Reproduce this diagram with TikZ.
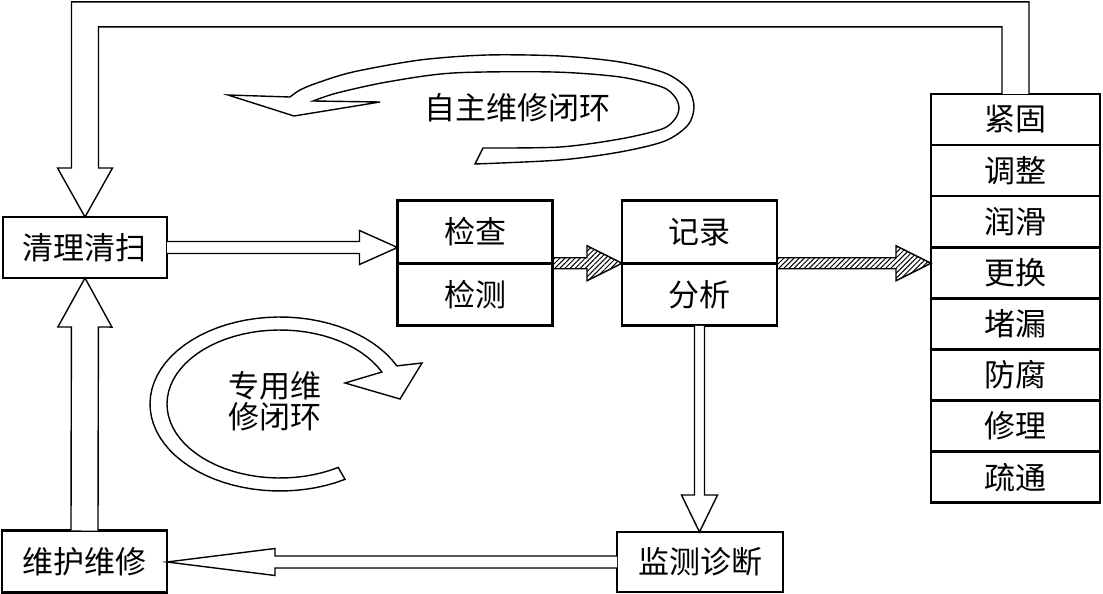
\documentclass[tikz,border=0pt]{standalone}
\usepackage{fontspec}
\newfontfamily\cjk{Noto Sans CJK SC}
\usetikzlibrary{calc, positioning, patterns.meta}

% block arrow drawn as an outline from start to tip
\tikzset{
    ba shaft/.store in=\bashaft,
    ba head/.store in=\bahead,
    ba len/.store in=\balen,
    ba shaft=6pt, ba head=17pt, ba len=38pt,
    blockarrow/.style={to path={
        ($(\tikztostart)!\bashaft!90:(\tikztotarget)$)
        -- ($(\tikztotarget)!\balen!(\tikztostart)!\bashaft!90:(\tikztotarget)$)
        -- ($(\tikztotarget)!\balen!(\tikztostart)!\bahead!90:(\tikztotarget)$)
        -- (\tikztotarget)
        -- ($(\tikztotarget)!\balen!(\tikztostart)!\bahead!-90:(\tikztotarget)$)
        -- ($(\tikztotarget)!\balen!(\tikztostart)!\bashaft!-90:(\tikztotarget)$)
        -- ($(\tikztostart)!\bashaft!-90:(\tikztotarget)$)
    }}
}

\begin{document}
\begin{tikzpicture}[
            x=1pt, y=-1pt,
            every node/.style={font=\cjk\fontsize{31}{31}\selectfont},
            box/.style={
                rectangle,
                draw,
                line width=2.6pt,
                inner sep=0pt,
                outer sep=0pt,
                minimum width=164pt,
                minimum height=61pt
            },
            pair/.style={box, minimum width=155pt, minimum height=62.5pt},
            cell/.style={box, minimum width=169pt, minimum height=51.1pt},
            hollow/.style={draw, line width=1.4pt, fill=white, blockarrow},
            hatched/.style={draw, line width=1.4pt, blockarrow,
                pattern={Lines[angle=45, distance=3.6pt, line width=1pt]},
                ba shaft=5.5pt, ba head=17.5pt, ba len=35pt},
            band/.style={draw, line width=1.4pt}
        ]
        \useasboundingbox (0,0) rectangle (1103,594);

        % Nodes
        \node[box] (clean) at (85,247.5) {清理清扫};
        \node[box, minimum width=165pt, minimum height=62pt] (maint) at (84.5,561.5) {维护维修};
        \node[pair] (check) at (475,232) {检查};
        \node[pair, below=0pt of check] (detect) {检测};
        \node[pair] (record) at (699.5,232) {记录};
        \node[pair, below=0pt of record] (analyze) {分析};
        \node[box, minimum width=166pt, minimum height=60pt] (monitor) at (700,562) {监测诊断};

        \node[cell] (fasten) at (1015.5,119.5) {紧固};
        \node[cell, below=0pt of fasten] (adjust) {调整};
        \node[cell, below=0pt of adjust] (lubricate) {润滑};
        \node[cell, below=0pt of lubricate] (replace) {更换};
        \node[cell, below=0pt of replace] (plug) {堵漏};
        \node[cell, below=0pt of plug] (antirust) {防腐};
        \node[cell, below=0pt of antirust] (repair) {修理};
        \node[cell, below=0pt of repair] (dredge) {疏通};

        \node (selfloop) at (517,108) {自主维修闭环};
        \node[align=center] (speloop) at (275,401) {专用维\\修闭环};

        % Arrows
        \draw[hollow] (clean.east) to (clean.east -| check.west);
        \draw[hatched] (check.south east) to (record.south west);
        \draw[hatched] (record.south east) to (record.south east -| fasten.west);
        \draw[hollow, ba shaft=5pt, ba head=18pt, ba len=37pt] (analyze.south) to (analyze.south |- monitor.north);
        \draw[hollow, ba shaft=6pt, ba head=13.5pt, ba len=108pt] (monitor.west) to (monitor.west -| maint.east);
        \draw[hollow, ba shaft=13.5pt, ba head=27pt, ba len=49pt] (maint.north) to (clean.south);
        \draw[hollow] ($(fasten.north)+(13.5,0)$) -- ++(0,-92) -| ($(clean.north)+(-13.5,-49)$)
            -- ++(-14,0) -- (clean.north) -- ++(27.5,-49) -- ++(-14,0)
            |- ($(fasten.north)+(-13.5,-67)$) -- ($(fasten.north)+(-13.5,0)$);

        % Loops
        \draw[band] plot[smooth] coordinates {(290,97) (300,90) (317,83) (353,72) (420,60) (487,55)
                (560,56) (620,62) (665,73) (688,89) (694,107) (688,125) (665,141) (620,152) (560,160) (475,164)}
            -- (483,148)
            -- plot[smooth] coordinates {(483,148) (560,147) (620,139) (662,129) (675,119) (679,108)
                (675,97) (662,87) (620,77) (553,72) (453,73) (387,82) (337,93) (313,101)}
            -- (380,102) -- (294,116) -- (228,95) -- cycle;
        \draw[band] plot[domain=60:334, samples=60] ({280+130*cos(\x)},{404+87*sin(\x)})
            -- (422,363) -- (400,399) -- (345,383)
            -- plot[domain=334.4:59, samples=60] ({280+113*cos(\x)},{404+74*sin(\x)}) -- cycle;

\end{tikzpicture}
\end{document}
